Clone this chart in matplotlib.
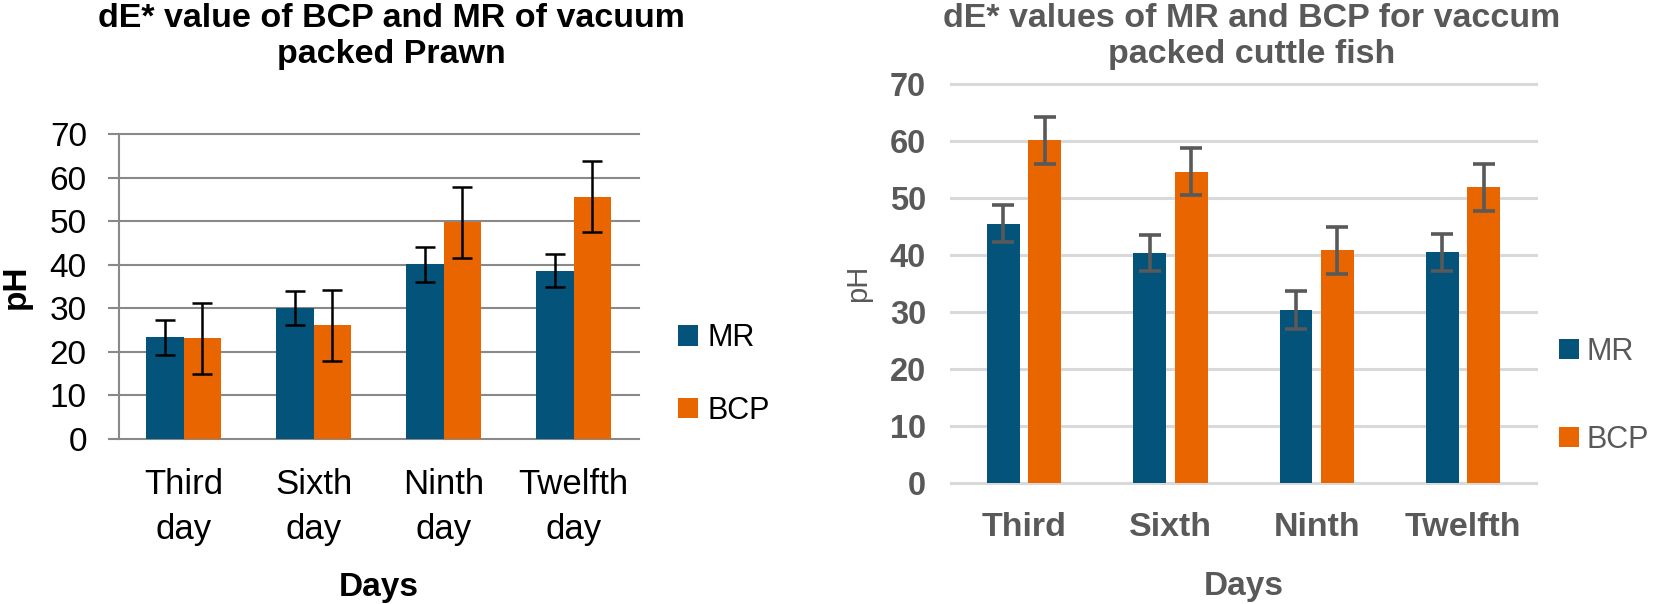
"""Two panel dE* bar charts: vacuum packed prawn and cuttle fish."""

import matplotlib

matplotlib.use("Agg")
import matplotlib.pyplot as plt
import numpy as np

plt.rcParams["font.family"] = ["Liberation Sans", "DejaVu Sans"]

# --- data -------------------------------------------------------------
prawn_days = ["Third\nday", "Sixth\nday", "Ninth\nday", "Twelfth\nday"]
prawn_mr = [23.4, 30.0, 40.1, 38.7]
prawn_mr_err = [4.0, 3.9, 4.0, 3.9]
prawn_bcp = [23.1, 26.1, 49.8, 55.7]
prawn_bcp_err = [8.2, 8.2, 8.2, 8.2]

cuttle_days = ["Third", "Sixth", "Ninth", "Twelfth"]
cuttle_mr = [45.5, 40.3, 30.3, 40.5]
cuttle_mr_err = [3.3, 3.2, 3.3, 3.25]
cuttle_bcp = [60.1, 54.6, 40.8, 51.9]
cuttle_bcp_err = [4.1, 4.1, 4.1, 4.1]

y_ticks = [0, 10, 20, 30, 40, 50, 60, 70]

BLUE = "#03537A"
ORANGE = "#E86500"
GRAY_TXT = "#595959"

fig = plt.figure(figsize=(16.54, 6.04), dpi=100)
x = np.arange(len(prawn_days))

# --- left panel: prawn ------------------------------------------------
ax1 = fig.add_axes([0.0718, 0.2732, 0.3144, 0.5045])
w1 = 0.287
ax1.bar(x - w1 / 2, prawn_mr, w1, color=BLUE, label="MR", zorder=3)
ax1.bar(x + w1 / 2, prawn_bcp, w1, color=ORANGE, label="BCP", zorder=3)
err_kw = dict(fmt="none", ecolor="black", elinewidth=1.8, capsize=7, capthick=1.8, zorder=4)
ax1.errorbar(x - w1 / 2, prawn_mr, yerr=prawn_mr_err, **err_kw)
ax1.errorbar(x + w1 / 2, prawn_bcp, yerr=prawn_bcp_err, **err_kw)
ax1.set_xlim(-0.5, 3.5)
ax1.set_ylim(0, 70)
ax1.set_yticks(y_ticks)
ax1.set_xticks(x)
ax1.set_xticklabels(prawn_days, fontsize=25, linespacing=1.45)
ax1.tick_params(axis="x", length=0, pad=21)
ax1.tick_params(axis="y", labelsize=24, length=8, width=1.5, color="#898989", pad=15, direction="out")
ax1.yaxis.grid(True, color="#898989", linewidth=1.5, zorder=0)
for gl in ax1.get_ygridlines():
    gl.set_clip_on(False)
for side in ["top", "right", "bottom"]:
    ax1.spines[side].set_visible(False)
ax1.spines["left"].set_color("#898989")
ax1.spines["left"].set_linewidth(1.5)

p1 = ax1.get_position()
fig.text(0.0097, (p1.y0 + p1.y1) / 2, "pH", rotation=90, ha="center", va="center",
         fontsize=24, fontweight="bold")
fig.text((p1.x0 + p1.x1) / 2, 0.013, "Days", ha="center", va="baseline", fontsize=24, fontweight="bold")
fig.text(0.2366, 0.940, "dE* value of BCP and MR of vacuum\npacked Prawn", ha="center", va="center",
         fontsize=24.5, fontweight="bold", linespacing=1.22)
fig.legend(*ax1.get_legend_handles_labels(), loc="center left", bbox_to_anchor=(0.41, 0.380),
           frameon=False, fontsize=22, handlelength=0.65, handleheight=0.65, handletextpad=0.3,
           labelspacing=1.4, borderpad=0, borderaxespad=0)

# --- right panel: cuttle fish -----------------------------------------
ax2 = fig.add_axes([0.575, 0.2008, 0.3537, 0.660])
w2 = 0.225
off = 0.1415
ax2.bar(x - off, cuttle_mr, w2, color=BLUE, label="MR", zorder=3)
ax2.bar(x + off, cuttle_bcp, w2, color=ORANGE, label="BCP", zorder=3)
err_kw2 = dict(fmt="none", ecolor=GRAY_TXT, elinewidth=2.6, capsize=7.7, capthick=2.6, zorder=4)
ax2.errorbar(x - off, cuttle_mr, yerr=cuttle_mr_err, **err_kw2)
ax2.errorbar(x + off, cuttle_bcp, yerr=cuttle_bcp_err, **err_kw2)
ax2.set_xlim(-0.5, 3.5)
ax2.set_ylim(0, 70)
ax2.set_yticks(y_ticks)
ax2.set_xticks(x)
ax2.set_xticklabels(cuttle_days, fontsize=24.5, fontweight="bold", color=GRAY_TXT)
ax2.set_yticklabels([str(t) for t in y_ticks], fontsize=23.5, fontweight="bold", color=GRAY_TXT)
ax2.tick_params(axis="x", length=0, pad=21)
ax2.tick_params(axis="y", length=0, pad=18)
ax2.yaxis.grid(True, color="#D9D9D9", linewidth=2.2, zorder=0)
for gl in ax2.get_ygridlines():
    gl.set_clip_on(False)
for side in ax2.spines:
    ax2.spines[side].set_visible(False)

p2 = ax2.get_position()
fig.text(0.519, (p2.y0 + p2.y1) / 2, "pH", rotation=90, ha="center", va="center",
         fontsize=21, color=GRAY_TXT)
fig.text((p2.x0 + p2.x1) / 2, 0.015, "Days", ha="center", va="baseline", fontsize=24,
         fontweight="bold", color=GRAY_TXT)
fig.text(0.757, 0.940, "dE* values of MR and BCP for vaccum\npacked cuttle fish", ha="center",
         va="center", fontsize=24.5, fontweight="bold", color=GRAY_TXT, linespacing=1.22)
leg2 = fig.legend(*ax2.get_legend_handles_labels(), loc="center left", bbox_to_anchor=(0.9426, 0.345),
                  frameon=False, fontsize=22, handlelength=0.65, handleheight=0.65,
                  handletextpad=0.25, labelspacing=1.9, borderpad=0, borderaxespad=0)
for txt in leg2.get_texts():
    txt.set_color(GRAY_TXT)

fig.savefig("out.png", dpi=100)
